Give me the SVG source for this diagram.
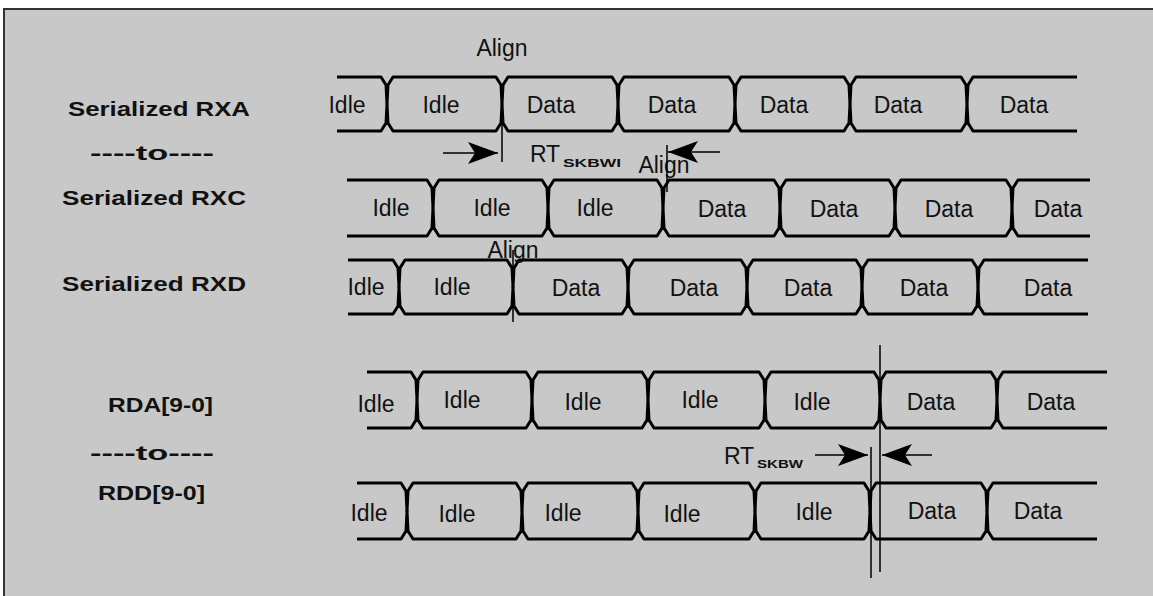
<svg xmlns="http://www.w3.org/2000/svg" width="1153" height="596" viewBox="0 0 1153 596">
<style>
.sig{fill:none;stroke:#000;stroke-width:3;stroke-linejoin:round}
.t{font-family:"Liberation Sans",Arial,sans-serif;font-size:23px;fill:#111;text-anchor:middle}
.lb{font-family:"Liberation Sans",Arial,sans-serif;font-size:21px;font-weight:bold;fill:#111}
.sub{font-family:"Liberation Sans",Arial,sans-serif;font-size:11px;font-weight:bold;fill:#111}
.thin{stroke:#000;stroke-width:1.5;fill:none}
</style>
<defs>
<marker id="ah" markerUnits="userSpaceOnUse" markerWidth="30" markerHeight="22" viewBox="0 0 30 22" refX="30" refY="11" orient="auto">
<path d="M0,0 L30,11 L0,22 L7,11 Z" fill="#000"/>
</marker>
</defs>
<rect x="0" y="0" width="1153" height="596" fill="#fff"/>
<rect x="4" y="9" width="1160" height="600" fill="#c8c8c8" stroke="#333" stroke-width="2"/>

<g id="labels">
<text class="lb" x="68" y="116" textLength="182" lengthAdjust="spacingAndGlyphs">Serialized RXA</text>
<text class="lb" x="90" y="160" textLength="124" lengthAdjust="spacingAndGlyphs">----to----</text>
<text class="lb" x="62" y="205" textLength="184" lengthAdjust="spacingAndGlyphs">Serialized RXC</text>
<text class="lb" x="62" y="291" textLength="184" lengthAdjust="spacingAndGlyphs">Serialized RXD</text>
<text class="lb" x="108" y="412" textLength="105" lengthAdjust="spacingAndGlyphs">RDA[9-0]</text>
<text class="lb" x="90" y="460" textLength="124" lengthAdjust="spacingAndGlyphs">----to----</text>
<text class="lb" x="98" y="500" textLength="107" lengthAdjust="spacingAndGlyphs">RDD[9-0]</text>
</g>

<g id="rxa">
<path class="sig" d="M337,77 H381 l5,8 l1,19 l1,-19 l5,-8 H496 l5,8 l1,19 l1,-19 l5,-8 H612 l5,8 l1,19 l1,-19 l5,-8 H729 l5,8 l1,19 l1,-19 l5,-8 H844 l5,8 l1,19 l1,-19 l5,-8 H961 l5,8 l1,19 l1,-19 l5,-8 H1077"/>
<path class="sig" d="M337,131 H381 l5,-8 l1,-19 l1,19 l5,8 H496 l5,-8 l1,-19 l1,19 l5,8 H612 l5,-8 l1,-19 l1,19 l5,8 H729 l5,-8 l1,-19 l1,19 l5,8 H844 l5,-8 l1,-19 l1,19 l5,8 H961 l5,-8 l1,-19 l1,19 l5,8 H1077"/>
<text class="t" x="347" y="113">Idle</text>
<text class="t" x="441" y="113">Idle</text>
<text class="t" x="551" y="113">Data</text>
<text class="t" x="672" y="113">Data</text>
<text class="t" x="784" y="113">Data</text>
<text class="t" x="898" y="113">Data</text>
<text class="t" x="1024" y="113">Data</text>
</g>

<g id="rxc">
<path class="sig" d="M347,180 H427 l5,8 l1,20 l1,-20 l5,-8 H542 l5,8 l1,20 l1,-20 l5,-8 H657 l5,8 l1,20 l1,-20 l5,-8 H774 l5,8 l1,20 l1,-20 l5,-8 H889 l5,8 l1,20 l1,-20 l5,-8 H1006 l5,8 l1,20 l1,-20 l5,-8 H1090"/>
<path class="sig" d="M347,236 H427 l5,-8 l1,-20 l1,20 l5,8 H542 l5,-8 l1,-20 l1,20 l5,8 H657 l5,-8 l1,-20 l1,20 l5,8 H774 l5,-8 l1,-20 l1,20 l5,8 H889 l5,-8 l1,-20 l1,20 l5,8 H1006 l5,-8 l1,-20 l1,20 l5,8 H1090"/>
<text class="t" x="391" y="216">Idle</text>
<text class="t" x="492" y="216">Idle</text>
<text class="t" x="595" y="216">Idle</text>
<text class="t" x="722" y="217">Data</text>
<text class="t" x="834" y="217">Data</text>
<text class="t" x="949" y="217">Data</text>
<text class="t" x="1058" y="217">Data</text>
</g>

<g id="rxd">
<path class="sig" d="M348,260 H393 l5,8 l1,19 l1,-19 l5,-8 H507 l5,8 l1,19 l1,-19 l5,-8 H622 l5,8 l1,19 l1,-19 l5,-8 H741 l5,8 l1,19 l1,-19 l5,-8 H856 l5,8 l1,19 l1,-19 l5,-8 H972 l5,8 l1,19 l1,-19 l5,-8 H1088"/>
<path class="sig" d="M348,314 H393 l5,-8 l1,-19 l1,19 l5,8 H507 l5,-8 l1,-19 l1,19 l5,8 H622 l5,-8 l1,-19 l1,19 l5,8 H741 l5,-8 l1,-19 l1,19 l5,8 H856 l5,-8 l1,-19 l1,19 l5,8 H972 l5,-8 l1,-19 l1,19 l5,8 H1088"/>
<text class="t" x="366" y="295">Idle</text>
<text class="t" x="452" y="295">Idle</text>
<text class="t" x="576" y="296">Data</text>
<text class="t" x="694" y="296">Data</text>
<text class="t" x="808" y="296">Data</text>
<text class="t" x="924" y="296">Data</text>
<text class="t" x="1048" y="296">Data</text>
</g>

<g id="rda">
<path class="sig" d="M367,372 H411 l5,8 l1,20 l1,-20 l5,-8 H526 l5,8 l1,20 l1,-20 l5,-8 H642 l5,8 l1,20 l1,-20 l5,-8 H759 l5,8 l1,20 l1,-20 l5,-8 H874 l5,8 l1,20 l1,-20 l5,-8 H991 l5,8 l1,20 l1,-20 l5,-8 H1107"/>
<path class="sig" d="M367,428 H411 l5,-8 l1,-20 l1,20 l5,8 H526 l5,-8 l1,-20 l1,20 l5,8 H642 l5,-8 l1,-20 l1,20 l5,8 H759 l5,-8 l1,-20 l1,20 l5,8 H874 l5,-8 l1,-20 l1,20 l5,8 H991 l5,-8 l1,-20 l1,20 l5,8 H1107"/>
<text class="t" x="376" y="412">Idle</text>
<text class="t" x="462" y="408">Idle</text>
<text class="t" x="583" y="410">Idle</text>
<text class="t" x="700" y="408">Idle</text>
<text class="t" x="812" y="410">Idle</text>
<text class="t" x="931" y="410">Data</text>
<text class="t" x="1051" y="410">Data</text>
</g>

<g id="rdd">
<path class="sig" d="M357,483 H401 l5,8 l1,20 l1,-20 l5,-8 H516 l5,8 l1,20 l1,-20 l5,-8 H632 l5,8 l1,20 l1,-20 l5,-8 H749 l5,8 l1,20 l1,-20 l5,-8 H864 l5,8 l1,20 l1,-20 l5,-8 H981 l5,8 l1,20 l1,-20 l5,-8 H1097"/>
<path class="sig" d="M357,539 H401 l5,-8 l1,-20 l1,20 l5,8 H516 l5,-8 l1,-20 l1,20 l5,8 H632 l5,-8 l1,-20 l1,20 l5,8 H749 l5,-8 l1,-20 l1,20 l5,8 H864 l5,-8 l1,-20 l1,20 l5,8 H981 l5,-8 l1,-20 l1,20 l5,8 H1097"/>
<text class="t" x="369" y="521">Idle</text>
<text class="t" x="457" y="522">Idle</text>
<text class="t" x="563" y="521">Idle</text>
<text class="t" x="682" y="522">Idle</text>
<text class="t" x="814" y="520">Idle</text>
<text class="t" x="932" y="519">Data</text>
<text class="t" x="1038" y="519">Data</text>
</g>

<g id="annotations">
<text class="t" x="502" y="56">Align</text>
<text class="t" x="545" y="162">RT</text>
<text class="sub" x="563" y="167" textLength="58" lengthAdjust="spacingAndGlyphs">SKBWI</text>
<text class="t" x="664" y="173">Align</text>
<text class="t" x="513" y="258">Align</text>
<text class="t" x="739" y="464">RT</text>
<text class="sub" x="757" y="468" textLength="46" lengthAdjust="spacingAndGlyphs">SKBW</text>
</g>

<g id="connectors">
<line class="thin" x1="502" y1="115" x2="502" y2="162"/>
<line class="thin" x1="667" y1="145" x2="667" y2="192"/>
<line class="thin" x1="513" y1="250" x2="513" y2="322"/>
<line class="thin" x1="880" y1="345" x2="880" y2="572"/>
<line class="thin" x1="871" y1="447" x2="871" y2="578"/>
<line class="thin" x1="443" y1="153" x2="498" y2="153" marker-end="url(#ah)"/>
<line class="thin" x1="720" y1="152" x2="668" y2="152" marker-end="url(#ah)"/>
<line class="thin" x1="815" y1="455" x2="868" y2="455" marker-end="url(#ah)"/>
<line class="thin" x1="932" y1="455" x2="882" y2="455" marker-end="url(#ah)"/>
</g>
</svg>
